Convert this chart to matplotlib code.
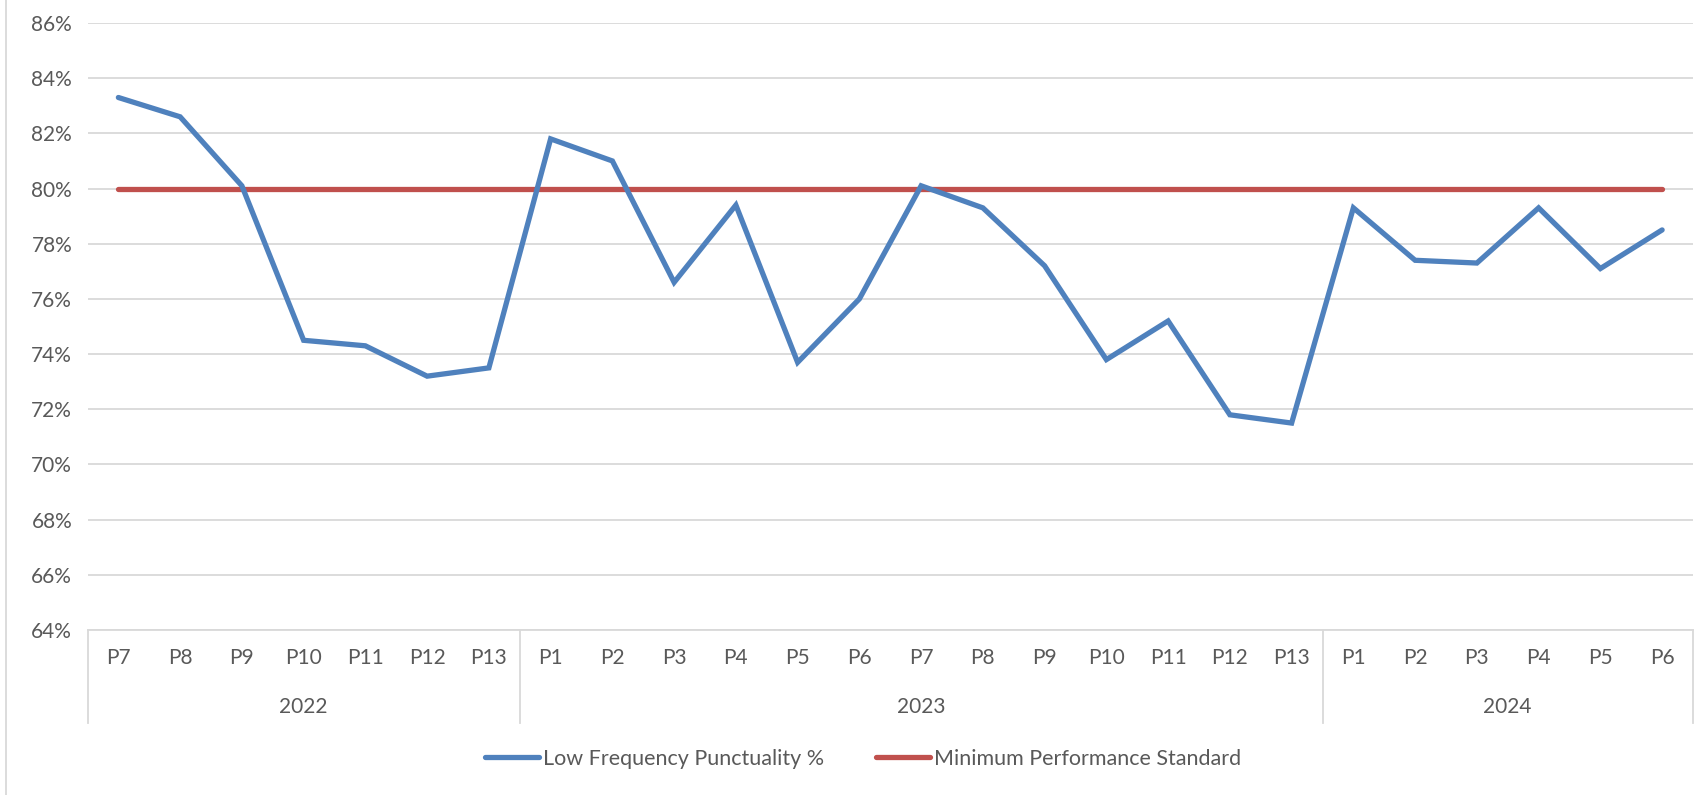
import matplotlib.pyplot as plt
from matplotlib.lines import Line2D
from matplotlib.ticker import FuncFormatter
import matplotlib.transforms as mtransforms

plt.rcParams['font.family'] = ['Lato', 'DejaVu Sans']

# data
years = ["2022", "2023", "2024"]
periods_per_year = [7, 13, 6]
periods = ["P7", "P8", "P9", "P10", "P11", "P12", "P13",
           "P1", "P2", "P3", "P4", "P5", "P6", "P7", "P8", "P9", "P10", "P11", "P12", "P13",
           "P1", "P2", "P3", "P4", "P5", "P6"]
punctuality = [83.3, 82.6, 80.1, 74.5, 74.3, 73.2, 73.5,
               81.8, 81.0, 76.6, 79.4, 73.7, 76.0, 80.1, 79.3, 77.2, 73.8, 75.2, 71.8, 71.5,
               79.3, 77.4, 77.3, 79.3, 77.1, 78.5]
mps = [80.0] * len(periods)

txt = "#595959"
grid = "#d9d9d9"
blue = "#4f81bd"
red = "#c0504d"

fig = plt.figure(figsize=(16.95, 7.95), dpi=100)
W, H = 1695, 795
ax = fig.add_axes([87.5 / W, (H - 630) / H, (1693 - 87.5) / W, (630 - 23) / H])

x = list(range(len(periods)))
ax.plot(x, punctuality, color=blue, lw=3.8, solid_joinstyle="miter", solid_capstyle="round",
        label="Low Frequency Punctuality %", zorder=3)
ax.plot(x, mps, color=red, lw=3.8, solid_capstyle="round",
        label="Minimum Performance Standard", zorder=2)

ax.set_xlim(-0.5, len(periods) - 0.5)
ax.set_ylim(64, 86)
ax.set_yticks(range(64, 87, 2))
ax.yaxis.set_major_formatter(FuncFormatter(lambda v, p: f"{v:.0f}%"))
ax.grid(axis="y", color=grid, lw=1.3)
ax.set_axisbelow(True)
for s in ["top", "right", "left"]:
    ax.spines[s].set_visible(False)
ax.spines["bottom"].set_color(grid)
ax.spines["bottom"].set_linewidth(1.3)

ax.set_xticks(x)
ax.set_xticklabels(periods)
ax.tick_params(axis="both", length=0, labelsize=15, labelcolor=txt)
ax.tick_params(axis="x", pad=13)
ax.tick_params(axis="y", pad=11)

# year groups below the axis
trans = mtransforms.blended_transform_factory(ax.transData, ax.transAxes)
drop = 93 / (630 - 23)
start = 0
bounds = [-0.5]
for yr, n in zip(years, periods_per_year):
    mid = start + (n - 1) / 2
    ax.text(mid, -77 / (630 - 23), yr, transform=trans, ha="center", va="center",
            fontsize=15, color=txt)
    start += n
    bounds.append(start - 0.5)
for b in bounds:
    ax.add_line(Line2D([b, b], [0, -drop], transform=trans, color=grid, lw=1.3, clip_on=False))

# chart area border on the left
fig.add_artist(Line2D([6 / W, 6 / W], [0, 1], color=grid, lw=1.3))

fig.legend(loc="center", bbox_to_anchor=(863 / W, 1 - 759 / H), ncol=2, frameon=False,
           fontsize=15.5, labelcolor=txt, handlelength=2.5, handletextpad=0.2,
           columnspacing=2.4)

fig.savefig("out.png", dpi=100)
